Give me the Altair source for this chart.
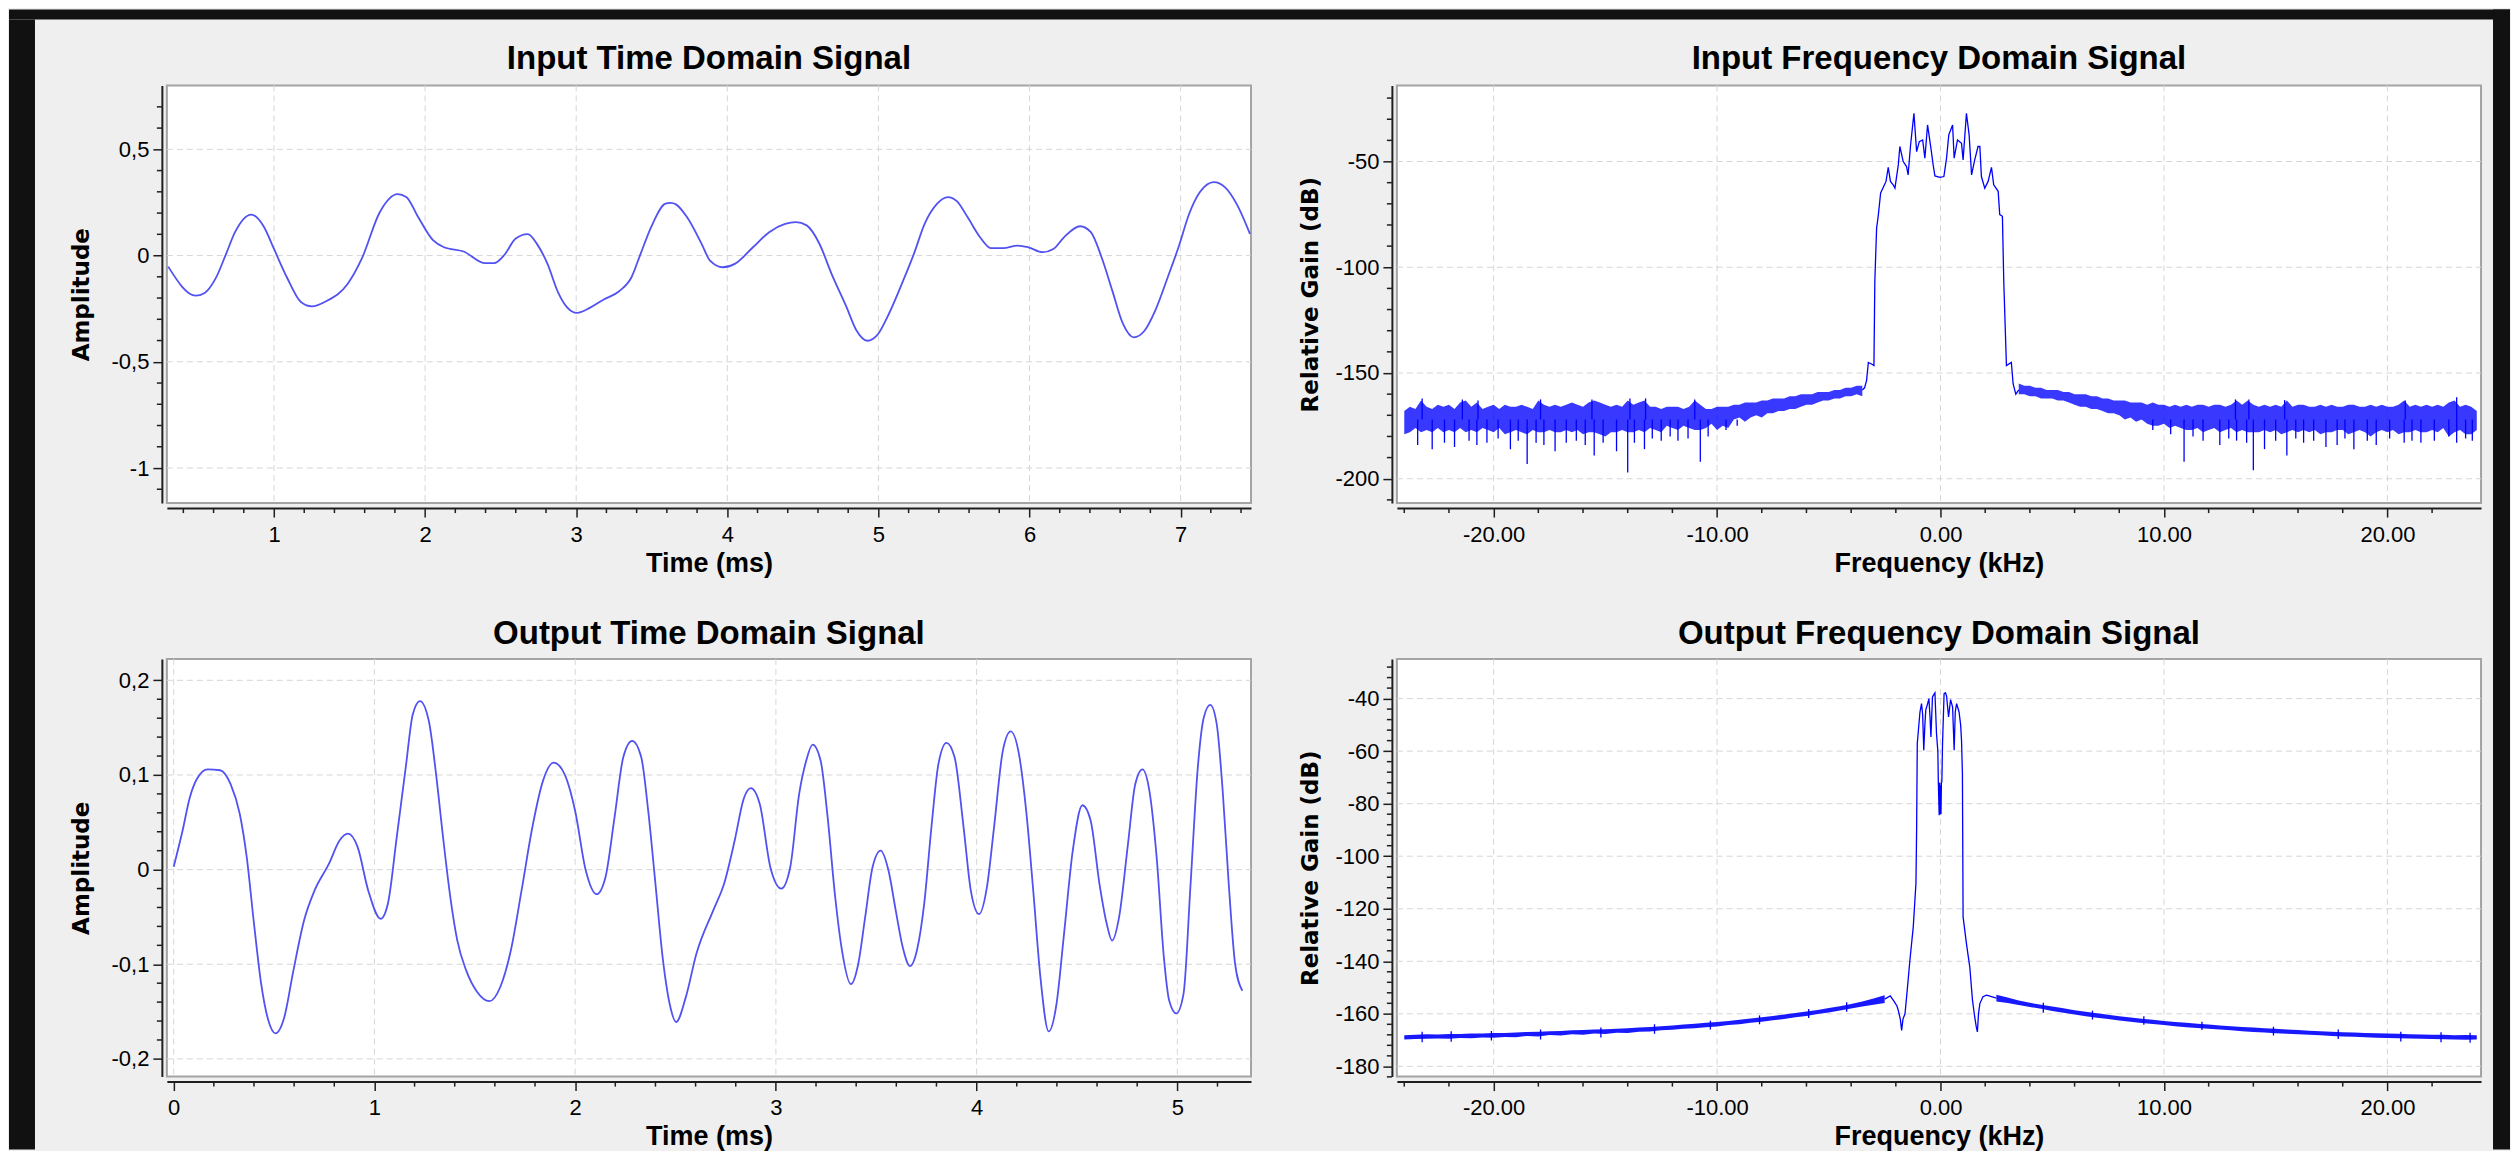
import altair as alt
import pandas as pd

# ---------------- data ----------------
# Input time domain signal (ms, amplitude)
in_t = [0.30, 0.482, 0.541, 0.612, 0.683, 0.742, 0.849, 0.931, 1.0, 1.085, 1.18, 1.25, 1.345, 1.487, 1.58,
        1.70, 1.818, 1.877, 1.948, 2.054, 2.125, 2.255, 2.397, 2.456, 2.527, 2.598, 2.68, 2.74, 2.81, 2.88,
        2.94, 3.005, 3.095, 3.177, 3.284, 3.366, 3.426, 3.496, 3.591, 3.626, 3.66, 3.733, 3.83, 3.886, 3.97,
        4.05, 4.17, 4.277, 4.383, 4.454, 4.525, 4.608, 4.69, 4.785, 4.856, 4.927, 4.998, 5.069, 5.164, 5.235,
        5.306, 5.389, 5.46, 5.519, 5.59, 5.673, 5.744, 5.826, 5.921, 5.992, 6.087, 6.158, 6.228, 6.335, 6.406,
        6.477, 6.548, 6.619, 6.69, 6.761, 6.832, 6.915, 6.986, 7.057, 7.128, 7.22, 7.293, 7.376, 7.459]
in_a = [-0.052, -0.189, -0.176, -0.110, 0.008, 0.110, 0.193, 0.138, 0.031, -0.102, -0.220, -0.239, -0.215, -0.134, -0.016,
        0.204, 0.289, 0.275, 0.189, 0.071, 0.039, 0.019, -0.036, -0.036, 0.005, 0.079, 0.101, 0.055, -0.039, -0.173,
        -0.244, -0.270, -0.244, -0.209, -0.168, -0.102, 0.008, 0.134, 0.244, 0.248, 0.241, 0.181, 0.055, -0.024, -0.055,
        -0.039, 0.039, 0.110, 0.149, 0.157, 0.142, 0.058, -0.086, -0.236, -0.354, -0.401, -0.369, -0.275, -0.118, 0.008,
        0.149, 0.244, 0.275, 0.256, 0.181, 0.086, 0.035, 0.035, 0.047, 0.039, 0.016, 0.031, 0.086, 0.138, 0.110,
        -0.008, -0.165, -0.322, -0.385, -0.354, -0.259, -0.102, 0.039, 0.197, 0.299, 0.346, 0.322, 0.236, 0.102]

# Output time domain signal (ms, amplitude)
out_t = [0.0, 0.044, 0.08, 0.116, 0.169, 0.231, 0.284, 0.329, 0.364, 0.4, 0.436, 0.471, 0.507, 0.551, 0.596,
         0.649, 0.702, 0.773, 0.827, 0.868, 0.916, 0.969, 1.031, 1.067, 1.111, 1.156, 1.191, 1.227, 1.271, 1.307,
         1.342, 1.378, 1.413, 1.458, 1.511, 1.573, 1.627, 1.68, 1.733, 1.787, 1.84, 1.893, 1.947, 2.0, 2.053,
         2.107, 2.151, 2.196, 2.24, 2.284, 2.329, 2.364, 2.4, 2.436, 2.471, 2.503, 2.551, 2.604, 2.688, 2.742,
         2.795, 2.84, 2.875, 2.92, 2.973, 3.027, 3.071, 3.116, 3.151, 3.183, 3.223, 3.258, 3.294, 3.329, 3.374,
         3.41, 3.445, 3.481, 3.522, 3.561, 3.597, 3.632, 3.668, 3.703, 3.739, 3.775, 3.81, 3.85, 3.89, 3.935,
         3.971, 4.012, 4.051, 4.087, 4.131, 4.17, 4.211, 4.247, 4.282, 4.318, 4.359, 4.398, 4.434, 4.479, 4.527,
         4.568, 4.612, 4.648, 4.675, 4.71, 4.754, 4.79, 4.826, 4.861, 4.897, 4.933, 4.959, 4.995, 5.031, 5.066,
         5.102, 5.132, 5.164, 5.196, 5.226, 5.256, 5.288, 5.324]
out_a = [0.003, 0.041, 0.076, 0.096, 0.106, 0.105, 0.090, 0.059, 0.013, -0.057, -0.121, -0.159, -0.173, -0.156, -0.107,
         -0.054, -0.022, 0.006, 0.031, 0.038, 0.024, -0.022, -0.052, -0.036, 0.034, 0.108, 0.164, 0.178, 0.157, 0.101,
         0.034, -0.029, -0.075, -0.107, -0.129, -0.139, -0.124, -0.085, -0.022, 0.045, 0.094, 0.113, 0.101, 0.062, -0.001,
         -0.026, -0.008, 0.055, 0.119, 0.136, 0.119, 0.062, -0.015, -0.093, -0.142, -0.161, -0.135, -0.089, -0.043, -0.015,
         0.031, 0.075, 0.086, 0.069, 0.002, -0.020, 0.002, 0.080, 0.115, 0.132, 0.115, 0.055, -0.026, -0.085, -0.121,
         -0.100, -0.050, 0.002, 0.020, -0.001, -0.043, -0.082, -0.102, -0.085, -0.036, 0.045, 0.112, 0.134, 0.119, 0.045,
         -0.022, -0.047, -0.019, 0.045, 0.126, 0.146, 0.122, 0.062, -0.022, -0.114, -0.171, -0.142, -0.071, 0.020, 0.068,
         0.052, -0.015, -0.057, -0.075, -0.050, 0.027, 0.090, 0.106, 0.083, 0.013, -0.093, -0.138, -0.152, -0.131, -0.015,
         0.108, 0.161, 0.174, 0.154, 0.083, -0.015, -0.100, -0.128]

# Input spectrum noise floor: upper / lower edge of the trace per bin (kHz, dB)
in_left_f = [-24.0, -23.75, -23.5, -23.25, -23.0, -22.75, -22.5, -22.25, -22.0, -21.75,
             -21.5, -21.25, -21.0, -20.75, -20.5, -20.25, -20.0, -19.75, -19.5, -19.25,
             -19.0, -18.75, -18.5, -18.25, -18.0, -17.75, -17.5, -17.25, -17.0, -16.75,
             -16.5, -16.25, -16.0, -15.75, -15.5, -15.25, -15.0, -14.75, -14.5, -14.25,
             -14.0, -13.75, -13.5, -13.25, -13.0, -12.75, -12.5, -12.25, -12.0, -11.75,
             -11.5, -11.25, -11.0, -10.75, -10.5, -10.25, -10.0, -9.75, -9.5, -9.25,
             -9.0, -8.75, -8.5, -8.25, -8.0, -7.75, -7.5, -7.25, -7.0, -6.75,
             -6.5, -6.25, -6.0, -5.75, -5.5, -5.25, -5.0, -4.75, -4.5, -4.25,
             -4.0, -3.75, -3.5]
in_left_hi = [-168, -166, -167, -163, -166, -167, -165, -166, -165, -167,
              -164, -163, -166, -164, -167, -166, -165, -167, -165, -166,
              -166, -165, -166, -167, -163, -165, -166, -165, -166, -165,
              -164, -165, -166, -164, -163, -164, -165, -166, -165, -166,
              -163, -165, -164, -163, -166, -166, -167, -166, -166, -166,
              -167, -166, -163, -165, -167, -167, -166, -166, -166, -165,
              -165, -164, -164, -164, -163, -163, -162, -162, -162, -161,
              -161, -160, -160, -160, -159, -159, -159, -158, -158, -157,
              -157, -156, -156]
in_left_lo = [-179, -178, -176, -178, -177, -178, -176, -178, -177, -178,
              -176, -178, -177, -178, -176, -177, -178, -176, -179, -178,
              -177, -178, -179, -177, -178, -178, -177, -178, -178, -177,
              -178, -177, -179, -178, -178, -179, -180, -178, -178, -177,
              -178, -178, -177, -178, -176, -177, -178, -175, -176, -177,
              -175, -176, -177, -177, -176, -174, -177, -175, -176, -172,
              -171, -173, -171, -170, -171, -169, -169, -168, -168, -167,
              -167, -166, -165, -165, -164, -163, -163, -162, -162, -161,
              -161, -160, -161]
in_right_f = [3.5, 3.75, 4.0, 4.25, 4.5, 4.75, 5.0, 5.25, 5.5, 5.75,
              6.0, 6.25, 6.5, 6.75, 7.0, 7.25, 7.5, 7.75, 8.0, 8.25,
              8.5, 8.75, 9.0, 9.25, 9.5, 9.75, 10.0, 10.25, 10.5, 10.75,
              11.0, 11.25, 11.5, 11.75, 12.0, 12.25, 12.5, 12.75, 13.0, 13.25,
              13.5, 13.75, 14.0, 14.25, 14.5, 14.75, 15.0, 15.25, 15.5, 15.75,
              16.0, 16.25, 16.5, 16.75, 17.0, 17.25, 17.5, 17.75, 18.0, 18.25,
              18.5, 18.75, 19.0, 19.25, 19.5, 19.75, 20.0, 20.25, 20.5, 20.75,
              21.0, 21.25, 21.5, 21.75, 22.0, 22.25, 22.5, 22.75, 23.0, 23.25,
              23.5, 23.75, 24.0]
in_right_hi = [-155, -156, -156, -157, -157, -158, -158, -158, -159, -159,
               -160, -160, -160, -161, -161, -162, -162, -163, -163, -163,
               -164, -164, -164, -165, -164, -165, -165, -166, -165, -166,
               -165, -166, -165, -165, -166, -165, -165, -166, -165, -163,
               -165, -163, -165, -166, -165, -166, -165, -166, -163, -166,
               -165, -165, -166, -166, -165, -166, -165, -166, -166, -165,
               -165, -166, -166, -165, -166, -165, -166, -166, -165, -163,
               -166, -165, -166, -165, -166, -165, -166, -164, -163, -166,
               -165, -166, -168]
in_right_lo = [-160, -160, -161, -161, -162, -162, -162, -163, -163, -164,
               -165, -166, -166, -167, -167, -168, -169, -169, -170, -172,
               -171, -173, -172, -174, -175, -175, -174, -176, -175, -176,
               -177, -177, -176, -178, -177, -176, -178, -177, -176, -178,
               -177, -178, -178, -178, -177, -178, -177, -179, -178, -177,
               -178, -177, -178, -177, -179, -178, -178, -177, -177, -179,
               -178, -177, -178, -180, -178, -177, -178, -177, -179, -178,
               -178, -177, -178, -178, -177, -178, -176, -180, -178, -177,
               -179, -179, -177]
# isolated spikes leaving the noise floor (kHz, tip in dB); they start at the floor centre
in_spike_f = [-23.4, -22.75, -22.2, -21.75, -21.1, -20.75, -20.3, -19.8, -19.25, -18.9, -18.5, -18.1, -17.75,
              -17.25, -16.75, -16.3, -15.9, -15.5, -15.1, -14.5, -14.0, -13.7, -13.25, -12.9, -12.5, -12.1,
              -11.75, -11.3, -10.75, -10.4, -9.6, -9.1,
              9.5, 10.3, 10.9, 11.3, 11.75, 12.5, 12.9, 13.25, 13.7, 14.0, 14.5, 15.0, 15.5, 15.9, 16.25,
              16.7, 17.25, 17.75, 18.1, 18.5, 19.1, 19.5, 20.1, 20.75, 21.1, 21.5, 22.1, 22.75, 23.1, 23.5, 23.8,
              -23.2, -21.4, -20.7, -17.9, -15.6, -13.9, -13.2, -11.0, 13.2, 13.8, 15.4, 20.8, 23.1]
in_spike_db = [-184, -186, -183, -185, -182, -184, -183, -181, -186, -182, -193, -183, -184,
               -187, -183, -182, -184, -189, -183, -187, -197, -183, -186, -181, -182, -180,
               -182, -181, -192, -180, -177, -175,
               -177, -179, -192, -180, -182, -184, -181, -182, -183, -196, -186, -182, -189, -181, -183,
               -182, -185, -184, -181, -186, -182, -184, -181, -183, -182, -183, -182, -180, -183, -181, -182,
               -162, -162.5, -163, -162.5, -162.5, -162, -162, -162.5, -162.5, -162.5, -162.8, -163, -161.5]
in_spike_base = [-172] * len(in_spike_f)
in_pass_f = [-3.5, -3.4, -3.31, -3.23, -3.05, -2.98, -2.94, -2.86, -2.79, -2.68, -2.56, -2.44, -2.34, -2.24, -2.12, -2.04,
             -1.89, -1.82, -1.67, -1.52, -1.45, -1.34, -1.19, -1.07, -0.95, -0.80, -0.70, -0.58, -0.43, -0.33, -0.25,
             -0.03, 0.15, 0.27, 0.37, 0.54, 0.61, 0.76, 0.94, 1.01, 1.16, 1.28, 1.39, 1.53, 1.68, 1.76,
             1.83, 1.98, 2.13, 2.28, 2.38, 2.58, 2.65, 2.77, 2.83, 2.95, 3.17, 3.25, 3.37, 3.5]
in_pass_db = [-158, -157, -153.6, -145, -146, -146.5, -106.5, -81.4, -75.9, -64.9, -62.2, -59.4, -52.8, -59.4, -61, -62.6,
              -51.6, -42.9, -50, -52.4, -56.3, -42.2, -27.2, -45.3, -40.6, -39.8, -48.4, -32.7, -43.7, -51.6, -56.8,
              -57.5, -57.1, -48.4, -37.4, -32.7, -48.4, -39.8, -41.4, -49.2, -27.2, -37.4, -56.3, -49.2, -42.9, -42.9,
              -57.1, -62.6, -59.4, -52.8, -61, -64.1, -75.1, -75.9, -106.5, -146.5, -145, -155.2, -160, -158]

# Output spectrum
out_left_f = [-24.0, -23.5, -23.0, -22.5, -22.0, -21.5, -21.0, -20.5, -20.0, -19.5,
              -19.0, -18.5, -18.0, -17.5, -17.0, -16.5, -16.0, -15.5, -15.0, -14.5,
              -14.0, -13.5, -13.0, -12.5, -12.0, -11.5, -11.0, -10.5, -10.0, -9.5,
              -9.0, -8.5, -8.0, -7.5, -7.0, -6.5, -6.0, -5.5, -5.0, -4.5,
              -4.0, -3.5, -3.0, -2.5]
out_left_hi = [-168.2, -168.0, -167.8, -167.9, -167.7, -167.7, -167.5, -167.5, -167.3, -167.3,
               -167.1, -166.9, -166.8, -166.6, -166.5, -166.3, -166.2, -166.0, -165.9, -165.7,
               -165.5, -165.2, -165.0, -164.7, -164.4, -164.1, -163.8, -163.4, -163.1, -162.7,
               -162.3, -161.8, -161.3, -160.8, -160.3, -159.7, -159.1, -158.5, -157.8, -157.1,
               -156.3, -155.3, -154.2, -152.9]
out_left_lo = [-169.8, -169.6, -169.5, -169.4, -169.5, -169.2, -169.3, -169.0, -169.1, -168.8,
               -168.9, -168.4, -168.6, -168.1, -168.3, -167.8, -168.0, -167.5, -167.7, -167.2,
               -167.3, -166.8, -166.7, -166.3, -166.1, -165.7, -165.5, -165.1, -164.8, -164.3,
               -164.0, -163.4, -163.0, -162.4, -162.0, -161.3, -160.8, -160.1, -159.5, -158.7,
               -158.0, -157.2, -156.5, -155.9]
out_right_f = [2.5, 3.0, 3.5, 4.0, 4.5, 5.0, 5.5, 6.0, 6.5, 7.0,
               7.5, 8.0, 8.5, 9.0, 9.5, 10.0, 10.5, 11.0, 11.5, 12.0,
               12.5, 13.0, 13.5, 14.0, 14.5, 15.0, 15.5, 16.0, 16.5, 17.0,
               17.5, 18.0, 18.5, 19.0, 19.5, 20.0, 20.5, 21.0, 21.5, 22.0,
               22.5, 23.0, 23.5, 24.0]
out_right_hi = [-152.7, -153.8, -154.9, -155.8, -156.5, -157.2, -157.9, -158.6, -159.2, -159.8,
                -160.4, -160.9, -161.4, -161.9, -162.3, -162.7, -163.1, -163.4, -163.8, -164.1,
                -164.4, -164.7, -165.0, -165.2, -165.5, -165.7, -166.0, -166.2, -166.4, -166.6,
                -166.8, -167.0, -167.1, -167.3, -167.4, -167.5, -167.6, -167.8, -167.9, -168.0,
                -168.0, -168.2, -168.1, -168.2]
out_right_lo = [-155.3, -155.9, -156.6, -157.4, -158.1, -158.9, -159.6, -160.3, -160.9, -161.5,
                -162.0, -162.5, -163.0, -163.5, -163.9, -164.3, -164.7, -165.1, -165.4, -165.7,
                -166.0, -166.3, -166.6, -166.9, -167.1, -167.4, -167.6, -167.8, -168.0, -168.2,
                -168.4, -168.6, -168.7, -168.9, -169.1, -169.2, -169.3, -169.4, -169.5, -169.6,
                -169.7, -169.8, -169.9, -169.8]
out_spike_f = [-23.2, -21.9, -20.1, -17.9, -15.2, -12.8, -10.3, -8.1, -5.9, -4.2,
               4.6, 6.8, 9.1, 11.7, 14.9, 17.8, 20.6, 22.4, 23.7]
out_spike_db = [-166.8, -166.6, -166.5, -166.0, -165.2, -164.0, -162.6, -160.6, -158.2, -155.6,
                -155.8, -158.8, -160.9, -163.0, -164.9, -166.0, -166.8, -167.0, -167.2]
out_spike_base = [-170.8, -170.6, -170.2, -169.8, -169.0, -167.6, -166.0, -164.0, -161.6, -159.2,
                  -159.6, -162.2, -164.2, -166.2, -168.3, -169.6, -170.5, -170.8, -171.0]
out_pass_f = [-2.5, -2.25, -2.1, -1.95, -1.89, -1.8, -1.74, -1.68, -1.59, -1.49, -1.37, -1.22, -1.10, -1.07, -1.04, -0.92,
              -0.85, -0.80, -0.75, -0.70, -0.66, -0.58, -0.52, -0.47, -0.43, -0.36, -0.30, -0.25, -0.18, -0.12, -0.10,
              -0.06, -0.04, -0.02, 0.0, 0.02, 0.04, 0.06, 0.09, 0.16, 0.22, 0.27, 0.36, 0.45, 0.54, 0.61,
              0.66, 0.72, 0.83, 0.90, 0.94, 0.98, 1.01, 1.16, 1.31, 1.43, 1.53, 1.60, 1.65, 1.70, 1.76,
              1.9, 2.06, 2.25, 2.5]
out_pass_db = [-154.4, -153.2, -155, -157, -158.7, -162, -166.3, -162, -160, -151, -139.6, -126.9, -110.4, -90.1, -57.1, -45.1,
               -41.9, -46, -59.7, -50, -44.4, -42, -40, -47, -54.6, -39.4, -38.5, -37.8, -53.3, -60, -71.1,
               -84.4, -72, -84, -73, -84, -72, -71.7, -57.1, -38.1, -37.8, -39, -47, -40.4, -43.2, -59.7,
               -45, -41.9, -45.1, -50, -55.9, -68.6, -123.1, -133.3, -142.2, -154.8, -161.2, -165, -166.9, -160, -156.1,
               -153.5, -152.9, -153.4, -154.0]

# axis ticks
tl_x_major = [1, 2, 3, 4, 5, 6, 7]
tl_y_major = [-1, -0.5, 0, 0.5]
bl_x_major = [0, 1, 2, 3, 4, 5]
bl_y_major = [-0.2, -0.1, 0, 0.1, 0.2]
fr_x_major = [-20, -10, 0, 10, 20]
tr_y_major = [-200, -150, -100, -50]
br_y_major = [-180, -160, -140, -120, -100, -80, -60, -40]


def minors(lo, hi, step, majors):
    out, k = [], 0
    while True:
        v = round(lo + k * step, 6)
        if v > hi + 1e-9:
            break
        if all(abs(v - m) > 1e-6 for m in majors):
            out.append(v)
        k += 1
    return out


tl_x_minor = minors(0.4, 7.4, 0.2, tl_x_major)
tl_y_minor = minors(-1.1, 0.7, 0.1, tl_y_major)
bl_x_minor = minors(0.2, 5.2, 0.2, bl_x_major)
bl_y_minor = minors(-0.2, 0.2, 0.02, bl_y_major)
fr_x_minor = minors(-24, 22, 2, fr_x_major)
tr_y_minor = minors(-210, -20, 10, tr_y_major)
br_y_minor = minors(-184, -28, 4, br_y_major)

# ---------------- styling ----------------
W, H = 1085, 418
AXC = "#1e1e1e"
GRIDC = "#d6d6d6"
BG = "#efefef"
BLACK = "#111111"
OFF = 5
MAJ = 9
MINL = 5
TIME_BLUE = "#5252f2"
SPEC_BLUE = "#0000ff"


def rect(x1, x2, y1, y2, color):
    return alt.Chart(pd.DataFrame({"k": [0]})).mark_rect(color=color).encode(
        x=alt.value(x1), x2=alt.value(x2), y=alt.value(y1), y2=alt.value(y2))


def panel(data_layers, xdom, ydom, xmaj, xmin, ymaj, ymin, title, title_y,
          xtitle, ytitle, xlabel, ylabel, ytitle_pad, extras=()):
    xs = alt.Scale(domain=xdom, nice=False, zero=False)
    ys = alt.Scale(domain=ydom, nice=False, zero=False)
    xaxis = alt.Axis(values=xmaj, title=xtitle, grid=False, offset=OFF,
                     domainColor=AXC, domainWidth=2, tickColor=AXC, tickWidth=1.5, tickSize=MAJ,
                     labelFont="Liberation Sans", labelFontSize=22, labelColor="black",
                     labelPadding=7, labelExpr=xlabel, labelOverlap=False,
                     titleFont="Liberation Sans", titleFontSize=27, titleFontWeight="bold",
                     titleColor="black", titlePadding=5)
    yaxis = alt.Axis(values=ymaj, title=ytitle, grid=False, offset=OFF,
                     domainColor=AXC, domainWidth=2, tickColor=AXC, tickWidth=1.5, tickSize=MAJ,
                     labelFont="Liberation Sans", labelFontSize=22, labelColor="black",
                     labelPadding=4, labelExpr=ylabel, labelOverlap=False,
                     titleFont="DejaVu Sans", titleFontSize=23, titleFontWeight="bold",
                     titleColor="black", titlePadding=ytitle_pad)
    X = lambda f: alt.X(f, scale=xs, axis=xaxis)
    Y = lambda f: alt.Y(f, scale=ys, axis=yaxis)
    grid_x = alt.Chart(pd.DataFrame({"v": xmaj})).mark_rule(
        color=GRIDC, strokeDash=[6, 4], strokeWidth=1).encode(
        x=X("v:Q"), y=alt.value(0), y2=alt.value(H))
    grid_y = alt.Chart(pd.DataFrame({"v": ymaj})).mark_rule(
        color=GRIDC, strokeDash=[6, 4], strokeWidth=1).encode(
        y=Y("v:Q"), x=alt.value(0), x2=alt.value(W))
    minor_x = alt.Chart(pd.DataFrame({"v": xmin})).mark_rule(color=AXC, strokeWidth=1.5).encode(
        x=X("v:Q"), y=alt.value(H + OFF), y2=alt.value(H + OFF + MINL))
    minor_y = alt.Chart(pd.DataFrame({"v": ymin})).mark_rule(color=AXC, strokeWidth=1.5).encode(
        y=Y("v:Q"), x=alt.value(-OFF), x2=alt.value(-OFF - MINL))
    ttl = alt.Chart(pd.DataFrame({"t": [title]})).mark_text(
        font="Liberation Sans", fontSize=33, fontWeight="bold", color="black",
        align="center", baseline="alphabetic").encode(
        x=alt.value(W / 2), y=alt.value(title_y), text="t:N")
    layers = [*extras, grid_x, grid_y, *data_layers(X, Y), minor_x, minor_y, ttl]
    return alt.layer(*layers).properties(width=W, height=H)


def time_layers(ts, amps):
    df = pd.DataFrame({"x": ts, "y": amps})

    def build(X, Y):
        return [alt.Chart(df).mark_line(color=TIME_BLUE, strokeWidth=1.8, clip=True,
                                        interpolate="monotone").encode(x=X("x:Q"), y=Y("y:Q"))]
    return build


def spec_layers(bands, pass_f, pass_db, spikes, band_opacity):
    rows = []
    for side, (fs, his, los) in enumerate(bands):
        for f, h, l in zip(fs, his, los):
            rows.append({"x": f, "hi": h, "lo": l, "side": side})
    band_df = pd.DataFrame(rows)
    pass_df = pd.DataFrame({"x": pass_f, "y": pass_db})
    sdf = pd.DataFrame({"x": spikes[0], "y": spikes[1], "b": spikes[2]})

    def build(X, Y):
        return [
            alt.Chart(band_df).mark_area(color=SPEC_BLUE, opacity=band_opacity, clip=True,
                                         interpolate="linear").encode(
                x=X("x:Q"), y=Y("hi:Q"), y2="lo:Q", detail="side:N"),
            alt.Chart(sdf).mark_rule(color=SPEC_BLUE, strokeWidth=1.3, clip=True).encode(
                x=X("x:Q"), y=Y("y:Q"), y2="b:Q"),
            alt.Chart(pass_df).mark_line(color=SPEC_BLUE, strokeWidth=1.3, clip=True).encode(
                x=X("x:Q"), y=Y("y:Q")),
        ]
    return build


RAD = "replace(toString(datum.value), '.', ',')"
FREQ = "replace(format(datum.value, '.2f'), '\u2212', '-')"
INT = "toString(datum.value)"

tl = panel(time_layers(in_t, in_a), [0.291, 7.466], [-1.165, 0.801],
           tl_x_major, tl_x_minor, tl_y_major, tl_y_minor,
           "Input Time Domain Signal", -16, "Time (ms)", "Amplitude", INT, RAD, 18,
           extras=[rect(-158, 2345, -76, -66, BLACK), rect(-158, -132, -66, 1065, BLACK)])
tr = panel(spec_layers([(in_left_f, in_left_hi, in_left_lo), (in_right_f, in_right_hi, in_right_lo)],
                       in_pass_f, in_pass_db, (in_spike_f, in_spike_db, in_spike_base), 0.78),
           [-24.33, 24.19], [-211.5, -14.0],
           fr_x_major, fr_x_minor, tr_y_major, tr_y_minor,
           "Input Frequency Domain Signal", -16, "Frequency (kHz)", "Relative Gain (dB)", FREQ, INT, 12,
           extras=[rect(1097, 1114, -76, 1065, BLACK)])
bl = panel(time_layers(out_t, out_a), [-0.034, 5.367], [-0.2187, 0.2226],
           bl_x_major, bl_x_minor, bl_y_major, bl_y_minor,
           "Output Time Domain Signal", -15, "Time (ms)", "Amplitude", INT, RAD, 18)
br = panel(spec_layers([(out_left_f, out_left_hi, out_left_lo), (out_right_f, out_right_hi, out_right_lo)],
                       out_pass_f, out_pass_db, (out_spike_f, out_spike_db, out_spike_base), 0.9),
           [-24.33, 24.19], [-183.9, -24.9],
           fr_x_major, fr_x_minor, br_y_major, br_y_minor,
           "Output Frequency Domain Signal", -15, "Frequency (kHz)", "Relative Gain (dB)", FREQ, INT, 12)

chart = alt.concat(tl, tr, bl, br, columns=2, spacing={"row": 156, "column": 146}, bounds="flush").properties(
    padding=0, background=BG
).configure_view(stroke="#a4a4a4", strokeWidth=2, fill="white")

chart.save("out.html", embed_options={"renderer": "svg", "actions": False})
